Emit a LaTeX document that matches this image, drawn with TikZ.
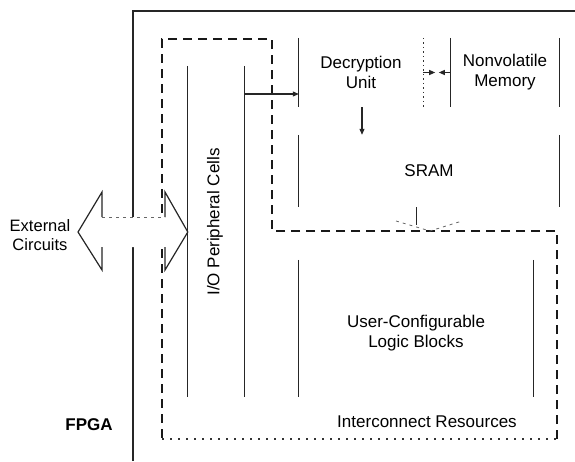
\documentclass[tikz,border=0pt]{standalone}
\usepackage{fontspec}
\setmainfont{Liberation Sans}
\usetikzlibrary{arrows.meta}
\begin{document}
\begin{tikzpicture}[x=1pt,y=-1pt,
  txt/.style={font=\fontsize{17}{20}\selectfont, inner sep=0pt, align=center},
  blk/.style={inner sep=0pt, draw=none, rectangle},
  side/.style={line width=1.2pt, black!85},
  dotside/.style={line width=1.1pt, dash pattern=on 1.5pt off 3pt, black!80},
  outer/.style={line width=1.8pt, black!85},
  region/.style={line width=1.4pt, dash pattern=on 9pt off 6pt, black!90},
  regiondot/.style={line width=1.2pt, dash pattern=on 2pt off 6pt, black!80},
  arr/.style={line width=1.1pt, black!85, -{Triangle[length=6pt,width=5pt]}},
  faint/.style={line width=0.8pt, dash pattern=on 3pt off 4pt, black!60}
]
\useasboundingbox (0,0) rectangle (575,461);

% FPGA outline (open to the right and bottom)
\draw[outer] (133,461) -- (133,11) -- (575,11);

% Interconnect resources region
\draw[region] (557,439) -- (557,231) -- (272,231) -- (272,39) -- (162,39) -- (162,439);
\draw[regiondot] (162,439) -- (557,439);

% blocks (only the vertical sides are printed)
\node[blk, minimum width=56pt, minimum height=331pt] (io) at (216,231.5) {};
\node[blk, txt, minimum width=124pt, minimum height=69pt] (dec) at (361,72.5) {Decryption\\Unit};
\node[blk, txt, minimum width=108pt, minimum height=69pt] (nvm) at (505,72.5) {Nonvolatile\\Memory};
\node[blk, txt, minimum width=260pt, minimum height=72pt] (sram) at (429,171) {SRAM};
\node[blk, minimum width=234pt, minimum height=137pt] (ulb) at (416,328.5) {};

\draw[side] (io.north west) -- (io.south west);
\draw[side] (io.north east) -- (io.south east);
\draw[side] (dec.north west) -- (dec.south west);
\draw[dotside] (dec.north east) -- (dec.south east);
\draw[side] (nvm.north west) -- (nvm.south west);
\draw[side] (nvm.north east) -- (nvm.south east);
\draw[side] (sram.north west) -- (sram.south west);
\draw[side] (sram.north east) -- (sram.south east);
\draw[side] (ulb.north west) -- (ulb.south west);
\draw[side] (ulb.north east) -- (ulb.south east);

% texts
\node[txt, rotate=90] (iotext) at (215,222) {I/O Peripheral Cells};
\node[txt] (ulbtext) at (416,333) {User-Configurable\\Logic Blocks};
\node[txt] (ictext) at (427,422) {Interconnect Resources};
\node[txt, font=\fontsize{17}{20}\selectfont\bfseries] (fpga) at (89,425) {FPGA};
\node[txt, font=\fontsize{16.5}{19}\selectfont] (ext) at (40,235) {External\\Circuits};

% connectors
\coordinate (ioout) at (244,94);
\draw[arr] (ioout) -- (dec.west |- ioout);
\draw[arr] (dec.south -| 362,0) -- (sram.north -| 362,0);
\draw[arr] (dec.east) -- ++(12,0);
\draw[arr] (nvm.west) -- ++(-12,0);

% marks below SRAM
\coordinate (sb) at (416,207);
\coordinate (sv) at (430,231);
\draw[side, line width=1pt] (sb) -- ++(0,18);
\draw[faint] (396,221) -- (sv) -- (462,221);

% double-headed hollow arrow to External Circuits
\coordinate (tipL) at (78,232);
\coordinate (tipR) at (io.west |- tipL);
\fill[white] (tipL) -- (102,192) -- (102,217) -- (165,217) -- (165,192) -- (tipR)
  -- (165,270) -- (165,247) -- (102,247) -- (102,270) -- cycle;
\draw[side, line join=miter] (102,217) -- (102,192) -- (tipL) -- (102,270) -- (102,247);
\draw[side, line join=miter] (165,217) -- (165,192) -- (tipR) -- (165,270) -- (165,247);
\draw[faint] (102,217) -- (165,217);
\end{tikzpicture}
\end{document}
